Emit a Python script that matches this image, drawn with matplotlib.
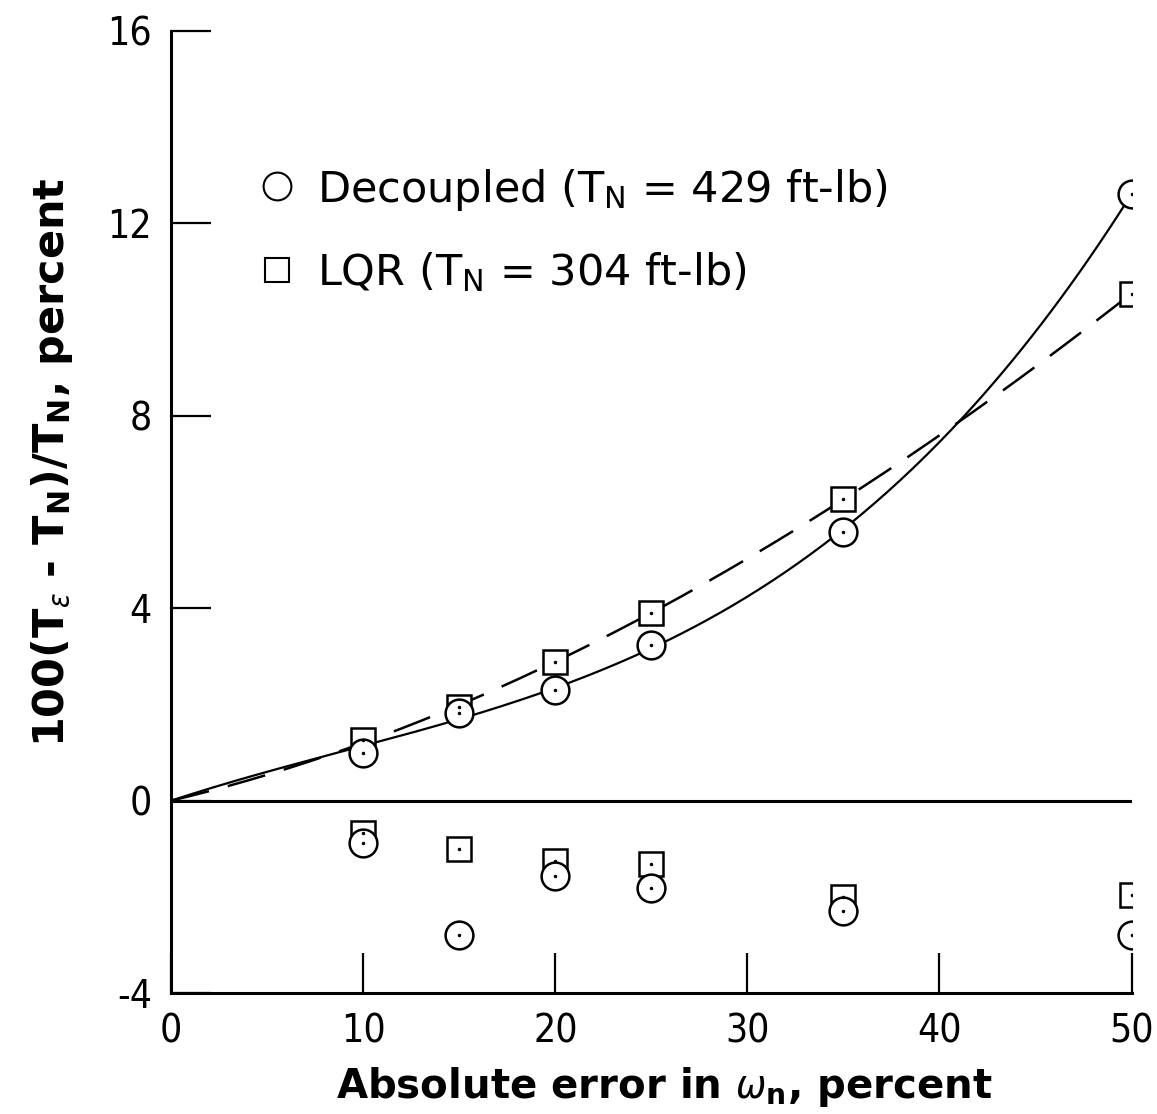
import numpy as np
import matplotlib
matplotlib.use("Agg")
import matplotlib.pyplot as plt
from matplotlib.font_manager import FontProperties

# Measured error data, percent
error_pct = [10, 15, 20, 25, 35, 50]

decoupled_pos = [1.00, 1.83, 2.29, 3.24, 5.59, 12.62]
decoupled_neg = [-0.89, -2.79, -1.56, -1.81, -2.29, -2.79]

lqr_pos = [1.25, 1.95, 2.89, 3.89, 6.28, 10.54]
lqr_neg = [-0.67, -1.00, -1.25, -1.31, -2.00, -1.97]

x_ticks = [0, 10, 20, 30, 40, 50]
y_ticks = [-4, 0, 4, 8, 12, 16]
y_tick_labels = ["-4", "0", "4", "8", "12", "16"]

plt.rcParams["font.family"] = ["DejaVu Sans"]
plt.rcParams["font.stretch"] = "condensed"
plt.rcParams["mathtext.fontset"] = "dejavusans"
plt.rcParams["lines.scale_dashes"] = False

fig = plt.figure(figsize=(11.57, 11.14), dpi=100)
ax = fig.add_axes([0.148, 0.1086, 0.830, 0.8636])

ax.set_xlim(0, 50)
ax.set_ylim(-4, 16)

# Faired curves through the origin and the positive-side points
def faired(xs, ys, deg=3):
    xx = np.concatenate([[0.0], np.asarray(xs, float)])
    yy = np.concatenate([[0.0], np.asarray(ys, float)])
    w = np.ones_like(xx)
    w[0] = 20.0
    c = np.polyfit(xx, yy, deg, w=w)
    xf = np.linspace(0, xx[-1], 300)
    return xf, np.polyval(c, xf)

xf, yf = faired(error_pct, decoupled_pos)
ax.plot(xf, yf, color="black", lw=1.6, zorder=2)
xf, yf = faired(error_pct, lqr_pos)
ax.plot(xf, yf, color="black", lw=1.8, dashes=(28, 14), zorder=2)

# Zero reference line
ax.axhline(0, color="black", lw=2.2, zorder=2)

circ = dict(marker="o", ms=20, mfc="white", mec="black", mew=1.8, ls="none", zorder=4)
sq = dict(marker="s", ms=17, mfc="white", mec="black", mew=1.8, ls="none", zorder=3)
dot = dict(marker=".", ms=3, color="black", ls="none", zorder=5)

ax.plot(error_pct, lqr_pos, **sq)
ax.plot(error_pct, lqr_neg, **sq)
ax.plot(error_pct, decoupled_pos, **circ)
ax.plot(error_pct, decoupled_neg, **circ)
for ys in (lqr_pos, lqr_neg, decoupled_pos, decoupled_neg):
    ax.plot(error_pct, ys, **dot)

# Legend entries
h1, = ax.plot([], [], marker="o", ms=20, mfc="white", mec="black", mew=1.5, ls="none")
h2, = ax.plot([], [], marker="s", ms=17, mfc="white", mec="black", mew=1.5, ls="none")
leg_font = FontProperties(family="DejaVu Sans", stretch="normal", size=31)
leg = ax.legend([h1, h2],
                [r"Decoupled (T$_\mathregular{N}$ = 429 ft-lb)",
                 r"LQR (T$_\mathregular{N}$ = 304 ft-lb)"],
                loc="upper left", bbox_to_anchor=(0.07, 0.877),
                frameon=False, prop=leg_font, handletextpad=0.42,
                labelspacing=0.88, handlelength=1.0, borderaxespad=0)

for s in ("top", "right"):
    ax.spines[s].set_visible(False)
for s in ("left", "bottom"):
    ax.spines[s].set_linewidth(2.2)

ax.set_xticks(x_ticks)
ax.set_yticks(y_ticks)
ax.set_yticklabels(y_tick_labels)
ax.tick_params(direction="in", length=29, width=1.6, labelsize=28, pad=14)

ax.set_xlabel(r"Absolute error in $\omega_\mathregular{n}$, percent",
              fontsize=29, fontweight="bold", fontstretch="normal")
ax.set_ylabel(r"100(T$_\epsilon$ - T$_\mathregular{N}$)/T$_\mathregular{N}$, percent",
              fontsize=31, fontweight="bold", fontstretch="normal")
ax.xaxis.set_label_coords(0.513, -0.075)
ax.yaxis.set_label_coords(-0.10, 0.552)

fig.savefig("out.png", dpi=100)
